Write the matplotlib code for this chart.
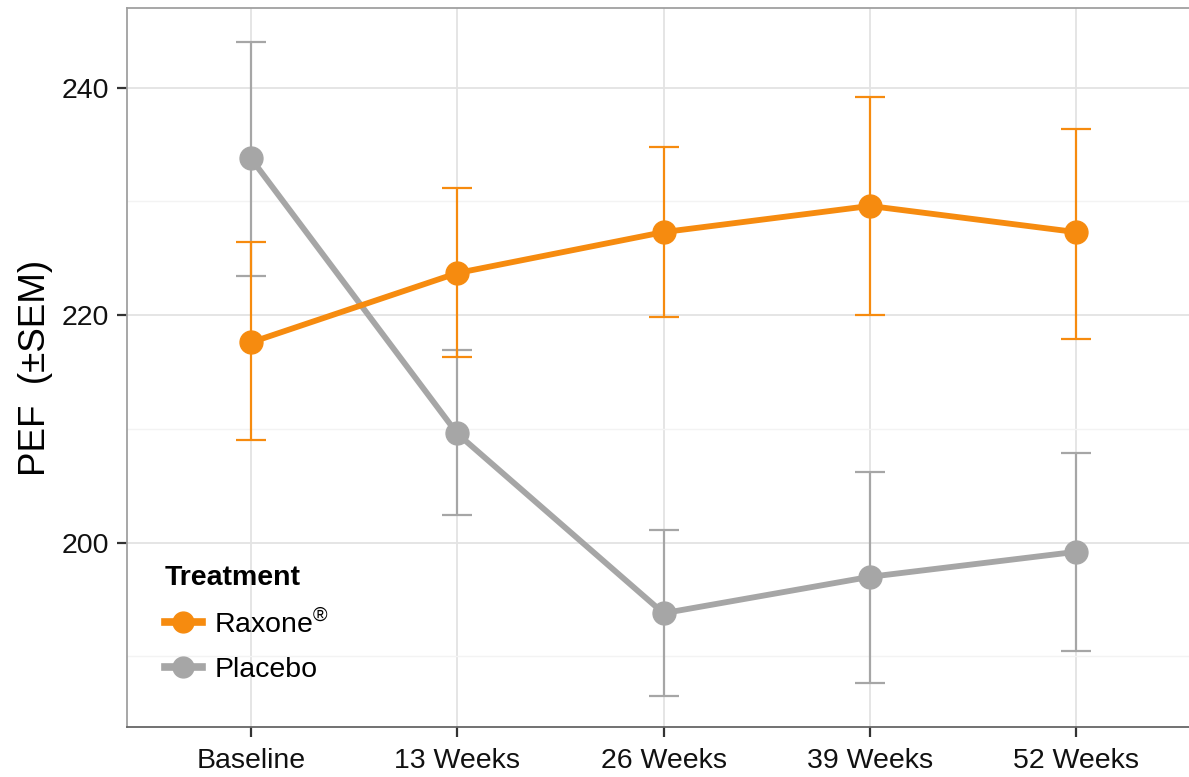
import matplotlib
matplotlib.use("Agg")
import matplotlib.pyplot as plt
from matplotlib.ticker import MultipleLocator
from matplotlib.lines import Line2D

plt.rcParams['font.family'] = ['Liberation Sans', 'DejaVu Sans']
plt.rcParams['mathtext.fontset'] = 'custom'
plt.rcParams['mathtext.rm'] = 'Liberation Sans'

categories = ["Baseline", "13 Weeks", "26 Weeks", "39 Weeks", "52 Weeks"]
raxone_mean = [217.6, 223.7, 227.3, 229.6, 227.3]
raxone_lo = [209.0, 216.3, 219.8, 220.0, 217.9]
raxone_hi = [226.4, 231.2, 234.8, 239.2, 236.4]
placebo_mean = [233.8, 209.6, 193.8, 197.0, 199.2]
placebo_lo = [223.4, 202.4, 186.5, 187.7, 190.5]
placebo_hi = [244.0, 216.9, 201.1, 206.2, 207.9]

orange = '#F68B0F'
grey = '#A6A6A6'

W, H = 1189, 777
fig = plt.figure(figsize=(W / 100, H / 100), dpi=100)
left, right, top, bottom = 127, 1200, 8, 727
ax = fig.add_axes([left / W, (H - bottom) / H, (right - left) / W, (bottom - top) / H])

x = list(range(len(categories)))

def draw(mean, lo, hi, color, label, z):
    yerr = [[m - l for m, l in zip(mean, lo)], [h - m for m, h in zip(mean, hi)]]
    ax.errorbar(x, mean, yerr=yerr, fmt='none', ecolor=color, elinewidth=1.6,
                capsize=11, capthick=1.6, zorder=z)
    ax.plot(x, mean, color=color, lw=4.2, marker='o', ms=16.5, zorder=z + 1,
            solid_capstyle='butt', label=label)

draw(placebo_mean, placebo_lo, placebo_hi, grey, 'Placebo', 3)
draw(raxone_mean, raxone_lo, raxone_hi, orange, 'Raxone', 5)

ax.set_xlim(-0.6, 4.6)
ax.set_ylim(183.8, 247.0)
ax.set_xticks(x)
ax.set_xticklabels(categories)
ax.yaxis.set_major_locator(MultipleLocator(20))
ax.yaxis.set_minor_locator(MultipleLocator(10))
ax.grid(True, which='major', color='#E3E3E3', lw=1.3, zorder=0)
ax.grid(True, which='minor', axis='y', color='#F3F3F3', lw=1.0, zorder=0)
ax.set_axisbelow(True)
ax.tick_params(axis='both', which='major', labelsize=20.5, length=7, width=1.6,
               color='#333333', labelcolor='#111111')
ax.tick_params(axis='x', which='major', pad=8)
ax.tick_params(axis='y', which='major', pad=6)
ax.tick_params(axis='y', which='minor', length=0)
for s in ax.spines.values():
    s.set_color('#A0A0A0')
    s.set_linewidth(1.3)
ax.spines['bottom'].set_color('#666666')

ax.set_ylabel('PEF  (±SEM)', fontsize=26.5, labelpad=6)

handles = [
    Line2D([], [], color=orange, lw=5.5, marker='o', ms=15),
    Line2D([], [], color=grey, lw=5.5, marker='o', ms=15),
]
labels = ['Raxone$^{\\circledR}$', 'Placebo']
leg = ax.legend(handles, labels, title='Treatment', loc='upper left',
                bbox_to_anchor=((139 - left) / (right - left), (bottom - 539) / (bottom - top)),
                frameon=False, fontsize=20.5, title_fontproperties={'weight': 'bold', 'size': 20.5},
                handlelength=1.3, handletextpad=0.45, labelspacing=0.65)
leg._legend_box.align = 'left'

fig.savefig('out.png', dpi=100)
